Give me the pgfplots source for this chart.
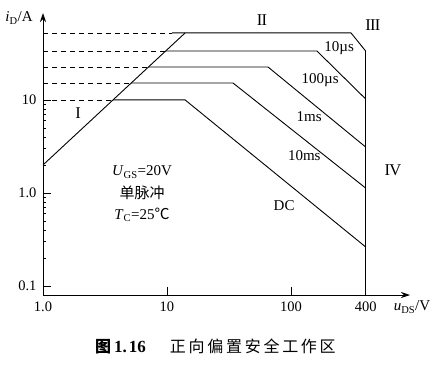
\documentclass[border=0pt]{standalone}
\usepackage{fontspec}
\setmainfont{Liberation Serif}
\newfontfamily\cjk{Noto Sans CJK SC}
\newfontfamily\cjkcap[LetterSpace=17]{Noto Sans CJK SC}
\usepackage{pgfplots}
\pgfplotsset{compat=1.18}
\usetikzlibrary{arrows.meta}

\begin{document}
\begin{tikzpicture}[x=1pt,y=1pt]
\path[use as bounding box] (0,0) rectangle (433,368);
\begin{axis}[
  at={(43pt,73pt)}, anchor=south west,
  scale only axis, width=367pt, height=282pt,
  xmode=log, ymode=log,
  xmin=1, xmax=912, ymin=0.08, ymax=86,
  axis x line=bottom, axis y line=left,
  axis line style={line width=0.8pt, -{Stealth[length=9pt,width=6pt]}},
  xtick={1,10,100,400}, xticklabels={1.0,10,100,400},
  ytick={0.1,1,10}, yticklabels={0.1,1.0,10},
  minor xtick={}, minor ytick={},
  tick align=inside, major tick length=8pt,
  tick style={line width=0.8pt, black},
  tick label style={font=\fontsize{14.5}{16}\selectfont},
  xticklabel style={yshift=-3pt},
  yticklabel style={xshift=-3pt},
  clip=false,
]
% boundary I
\addplot[black, line width=0.9pt] coordinates {(1,2) (14,52.5)};
% dashed guides
\addplot[black, line width=0.8pt, dash pattern=on 5pt off 4pt] coordinates {(1,52.5) (11,52.5)};
\addplot[black, line width=0.8pt, dash pattern=on 5pt off 4pt] coordinates {(1,33.6) (9.77,33.6)};
\addplot[black, line width=0.8pt, dash pattern=on 5pt off 4pt] coordinates {(1,22.6) (7.08,22.6)};
\addplot[black, line width=0.8pt, dash pattern=on 5pt off 4pt] coordinates {(1,15.2) (5.14,15.2)};
\addplot[black, line width=0.8pt, dash pattern=on 5pt off 4pt] coordinates {(1,10) (3.67,10)};
% pulse curves
\addplot[black, line width=0.9pt] coordinates {(11,52.5) (305,52.5) (400,33.6)};
\addplot[black, line width=0.9pt] coordinates {(9.77,33.6) (162,33.6) (400,10.25)};
\addplot[black, line width=0.9pt] coordinates {(7.08,22.6) (65.3,22.6) (400,3.12)};
\addplot[black, line width=0.9pt] coordinates {(5.14,15.2) (34.1,15.2) (400,1.13)};
\addplot[black, line width=0.9pt] coordinates {(3.67,10) (14,10) (400,0.263)};
% boundary IV
\addplot[black, line width=0.9pt] coordinates {(400,33.6) (400,0.08)};

\node[font=\fontsize{16.5}{16}\selectfont] at (axis cs:1.92,7.25) {I};
\node[font=\fontsize{16.5}{16}\selectfont] at (axis cs:58.4,72.5) {I\kern-0.8pt I};
\node[font=\fontsize{16.5}{16}\selectfont] at (axis cs:458,64) {I\kern-0.8pt I\kern-0.8pt I};
\node[font=\fontsize{16.5}{16}\selectfont] at (axis cs:665,1.77) {I\kern-0.8pt V};

\node[font=\fontsize{15}{16}\selectfont] at (axis cs:245,36.3) {10µs};
\node[font=\fontsize{15}{16}\selectfont] at (axis cs:172,16.4) {100µs};
\node[font=\fontsize{15}{16}\selectfont] at (axis cs:140,6.56) {1ms};
\node[font=\fontsize{15}{16}\selectfont] at (axis cs:128,2.50) {10ms};
\node[font=\fontsize{15}{16}\selectfont] at (axis cs:88,0.725) {DC};

\node[font=\fontsize{15}{16}\selectfont] at (axis cs:6.29,1.68) {\textit{U}\textsubscript{GS}=20V};
\node[font=\fontsize{15}{16}\selectfont] at (axis cs:6.29,1.0) {\cjk 单脉冲};
\node[font=\fontsize{15}{16}\selectfont] at (axis cs:6.29,0.58) {\textit{T}\textsubscript{C}=25{\cjk ℃}};

\node[font=\fontsize{15}{16}\selectfont] at (axis cs:0.64,76) {\textit{i}\textsubscript{D}/A};
\node[font=\fontsize{15}{16}\selectfont] at (axis cs:946,0.0594) {\textit{u}\textsubscript{DS}/V};
\end{axis}
\node[anchor=west, font=\fontsize{16}{18}\selectfont, inner sep=0pt] at (95,22) {{\cjk\bfseries 图}\hspace{3pt}\textbf{\fontsize{17}{18}\selectfont 1.\kern2pt 16}\hspace{24pt}{\cjkcap 正向偏置安全工作区}};
\end{tikzpicture}
\end{document}
